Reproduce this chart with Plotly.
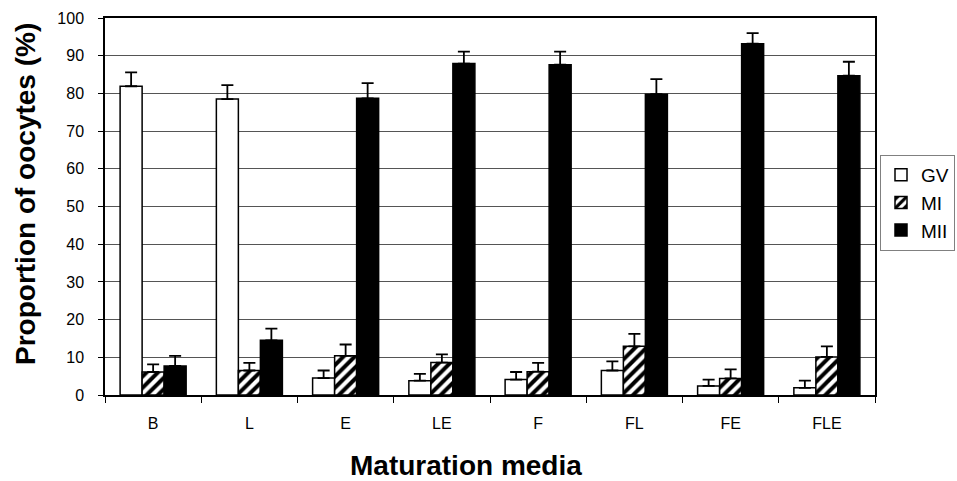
import plotly.graph_objects as go

categories = ["B", "L", "E", "LE", "F", "FL", "FE", "FLE"]
gv = [81.9, 78.5, 4.5, 3.8, 4.1, 6.5, 2.4, 1.9]
gv_err = [3.7, 3.7, 2.0, 1.8, 2.0, 2.4, 1.7, 1.9]
mi = [6.1, 6.5, 10.4, 8.6, 6.2, 12.9, 4.4, 10.1]
mi_err = [2.0, 2.0, 3.0, 2.2, 2.3, 3.3, 2.4, 2.8]
mii = [7.7, 14.5, 78.7, 87.9, 87.6, 79.8, 93.2, 84.7]
mii_err = [2.7, 3.1, 4.0, 3.2, 3.5, 4.0, 2.8, 3.7]
y_ticks = [0, 10, 20, 30, 40, 50, 60, 70, 80, 90, 100]

FONT = "Arial, Liberation Sans, sans-serif"


def err(vals):
    return dict(type="data", symmetric=False, array=vals, arrayminus=[0] * len(vals),
                color="black", thickness=1.8, width=6)


fig = go.Figure()
fig.add_trace(go.Bar(name="GV", x=categories, y=gv, error_y=err(gv_err),
                     marker=dict(color="white", line=dict(color="black", width=1.5))))
fig.add_trace(go.Bar(name="MI", x=categories, y=mi, error_y=err(mi_err),
                     marker=dict(color="white", line=dict(color="black", width=1.5),
                                 pattern=dict(shape="/", fgcolor="black", bgcolor="white",
                                              size=8, solidity=0.5, fillmode="replace"))))
fig.add_trace(go.Bar(name="MII", x=categories, y=mii, error_y=err(mii_err),
                     marker=dict(color="black", line=dict(color="black", width=1.5))))

fig.update_layout(
    width=957, height=481,
    margin=dict(l=105, r=82, t=18, b=86, autoexpand=False),
    paper_bgcolor="white", plot_bgcolor="white",
    barmode="group", bargap=0.314, bargroupgap=0,
    font=dict(family=FONT, color="black", size=16),
    showlegend=True,
    legend=dict(x=1.1039, y=0.637, xanchor="right", yanchor="top",
                bordercolor="#808080", borderwidth=1, bgcolor="white",
                font=dict(size=19, family=FONT), itemwidth=30,
                tracegroupgap=0),
    xaxis=dict(showline=True, linecolor="black", linewidth=1.5, mirror=True,
               ticks="outside", tickson="boundaries", ticklen=6, tickcolor="black",
               tickfont=dict(size=16, family=FONT), ticklabelstandoff=13,
               showgrid=False, automargin=False),
    yaxis=dict(range=[0, 100], tickvals=y_ticks, showline=True, linecolor="black",
               linewidth=1.5, mirror=True, ticks="outside", ticklen=5, tickcolor="black",
               tickfont=dict(size=16, family=FONT), ticklabelstandoff=11,
               showgrid=True, gridcolor="#555555", gridwidth=1, zeroline=False,
               automargin=False),
    annotations=[
        dict(text="<b>Proportion of oocytes (%)</b>", textangle=-90, xref="paper", yref="paper",
             x=-0.104, y=0.533, xanchor="center", yanchor="middle", showarrow=False,
             font=dict(size=28, family=FONT, color="black")),
        dict(text="<b>Maturation media</b>", xref="paper", yref="paper",
             x=0.469, y=-0.187, xanchor="center", yanchor="middle", showarrow=False,
             font=dict(size=28, family=FONT, color="black")),
    ],
)

fig.write_html("out.html", config={"displayModeBar": False},
               post_script="document.body.style.margin='0';")
